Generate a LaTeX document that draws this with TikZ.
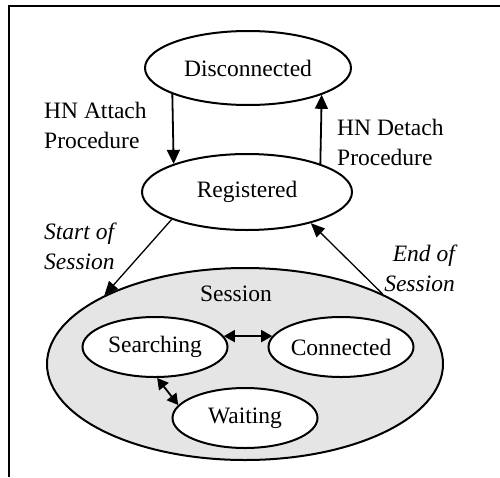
\documentclass[tikz,border=0pt]{standalone}
\usepackage{fontspec}
\setmainfont{Liberation Serif}
\usetikzlibrary{shapes.geometric,arrows.meta}
\begin{document}
\begin{tikzpicture}[x=1pt,y=-1pt,
  every node/.style={font=\fontsize{23.5}{30}\selectfont},
  state/.style={ellipse,draw,line width=2pt,fill=white,inner sep=0pt},
  arr/.style={line width=1.8pt,-{Triangle[length=14pt,width=13pt]}},
  biarr/.style={line width=1.8pt,{Triangle[length=11pt,width=12pt]}-{Triangle[length=11pt,width=12pt]}},
  thinarr/.style={line width=1.3pt,-{Triangle[length=14pt,width=12pt]}},
  lbl/.style={align=left,inner sep=0pt}]
\useasboundingbox (0,0) rectangle (500,477);
% open frame: top and left edges only
\draw[line width=2pt] (9,477) -- (9,6) -- (500,6);

% top-level states
\node[state,minimum width=206pt,minimum height=74pt] (disc) at (248,68) {Disconnected};
\node[state,minimum width=210pt,minimum height=76pt] (reg) at (247,192) {Registered};

% session super-state
\node[ellipse,draw,line width=2pt,fill=black!10,minimum width=396pt,minimum height=192pt] (sess) at (245,364) {};
\node[inner sep=0pt] (sesslbl) at (236,294) {Session};
\node[state,minimum width=145pt,minimum height=60pt] (search) at (155,347) {Searching};
\node[state,minimum width=145pt,minimum height=60pt] (conn) at (341,347) {Connected};
\node[state,minimum width=145pt,minimum height=60pt] (wait) at (245,418) {Waiting};

% transitions
\draw[arr] (disc.199) -- (reg.159);
\draw[arr] (reg.21) -- (disc.-20);
\draw[thinarr] (reg.200) -- (sess.154);
\draw[thinarr] (sess.27) -- (reg.-26);
\draw[biarr] (search.9) -- (conn.171);
\draw[biarr] (search.-86) -- (wait.169);

% transition labels
\node[lbl,anchor=west] (lattach) at (44,125) {HN Attach\\Procedure};
\node[lbl,anchor=west] (ldetach) at (337,142) {HN Detach\\Procedure};
\node[lbl,anchor=west,font=\fontsize{23.5}{30}\selectfont\itshape] (lstart) at (44,246) {Start of\\Session};
\node[lbl,align=right,anchor=east,font=\fontsize{23.5}{30}\selectfont\itshape] (lend) at (455,268) {End of\\Session};
\end{tikzpicture}
\end{document}
